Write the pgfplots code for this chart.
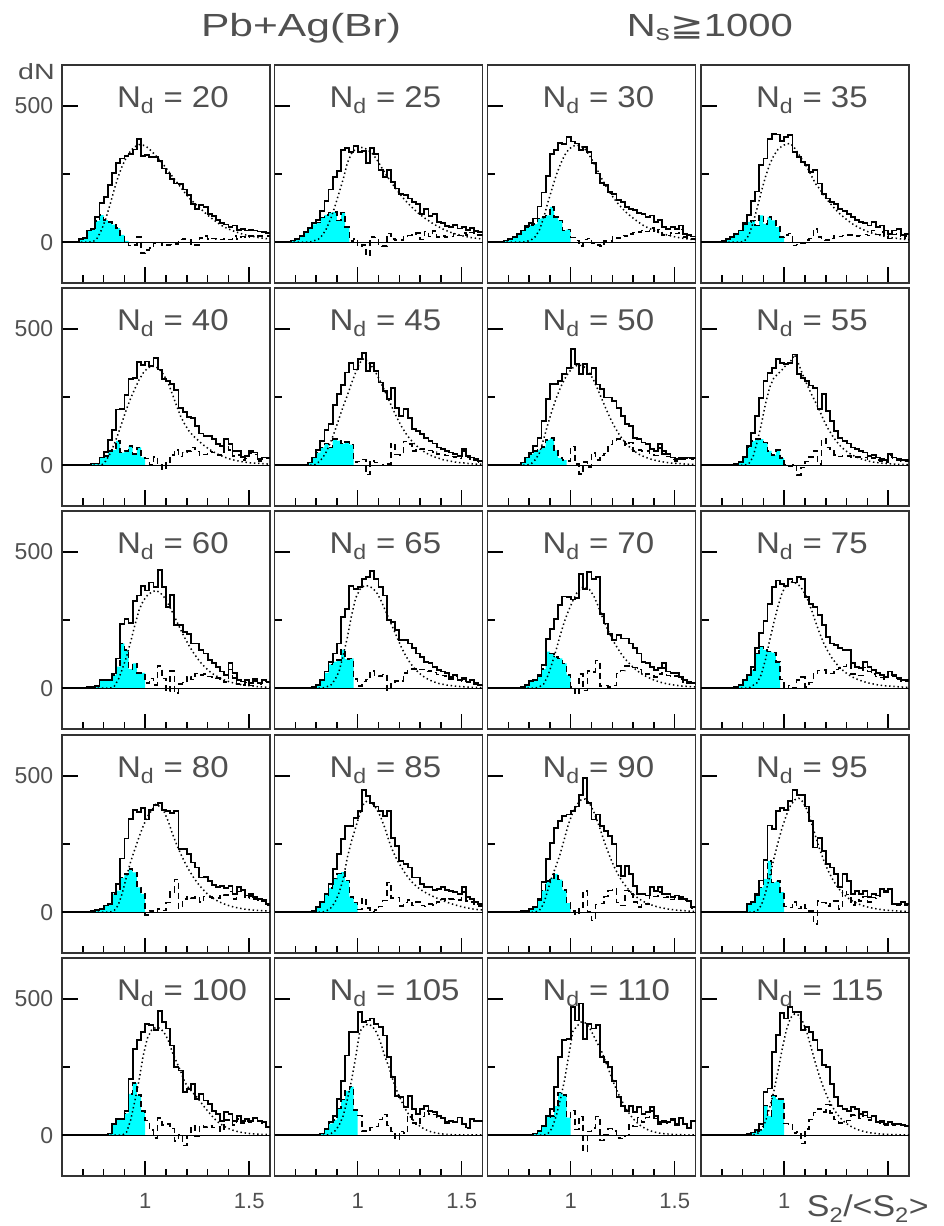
\documentclass[border=0pt]{standalone}
\usepackage{pgfplots}
\usepackage{pgfplotstable}
\usepackage{graphicx}
\usepackage{fontspec}
\setmainfont{Liberation Sans}
\newfontfamily\dejavu{DejaVu Sans}
\pgfplotsset{compat=1.18}
\definecolor{cy}{RGB}{0,255,255}
\definecolor{txt}{RGB}{80,80,80}

\pgfplotstableread[row sep=\\]{x s f d\\
0.60 0 0 0\\ 0.68 10 0 10\\ 0.70 15 0 15\\ 0.72 43 0 43\\ 0.74 50 2 48\\ 0.76 92 15 77\\ 0.78 144 45 99\\ 0.80 166 85 81\\ 0.82 209 135 74\\ 0.84 254 190 64\\ 0.86 291 240 51\\ 0.88 307 280 27\\ 0.90 317 312 5\\ 0.92 322 335 -13\\ 0.94 340 350 -10\\ 0.96 377 358 19\\ 0.98 316 356 -40\\ 1.00 320 348 -28\\ 1.02 313 334 -21\\ 1.04 313 318 -5\\ 1.06 298 300 -2\\ 1.08 270 282 -12\\ 1.10 252 262 -10\\ 1.12 233 242 -9\\ 1.14 215 222 -7\\ 1.16 212 202 10\\ 1.18 193 182 11\\ 1.20 172 163 9\\ 1.22 141 148 -7\\ 1.24 123 134 -11\\ 1.26 135 120 15\\ 1.28 129 106 23\\ 1.30 104 93 11\\ 1.32 95 81 14\\ 1.34 80 70 10\\ 1.36 70 60 10\\ 1.38 65 52 13\\ 1.40 55 45 10\\ 1.42 61 39 22\\ 1.44 45 34 11\\ 1.46 49 29 20\\ 1.48 43 25 18\\ 1.50 45 22 23\\ 1.52 43 19 24\\ 1.54 39 16 23\\ 1.56 37 14 23\\ 1.58 34 12 22\\ 1.60 34 12 22\\
}\tbA
\pgfplotstableread[row sep=\\]{x s f d\\
0.60 0 0 0\\ 0.68 6 0 6\\ 0.70 12 0 12\\ 0.72 22 0 22\\ 0.74 38 0 38\\ 0.76 52 0 52\\ 0.78 70 5 65\\ 0.80 82 10 72\\ 0.82 115 25 90\\ 0.84 150 50 100\\ 0.86 193 85 108\\ 0.88 240 130 110\\ 0.90 260 180 80\\ 0.92 338 230 108\\ 0.94 345 290 55\\ 0.96 330 325 5\\ 0.98 354 342 12\\ 1.00 332 348 -16\\ 1.02 335 346 -11\\ 1.04 289 338 -49\\ 1.06 344 325 19\\ 1.08 322 305 17\\ 1.10 264 280 -16\\ 1.12 240 255 -15\\ 1.14 264 232 32\\ 1.16 221 210 11\\ 1.18 197 190 7\\ 1.20 178 170 8\\ 1.22 172 152 20\\ 1.24 160 136 24\\ 1.26 147 121 26\\ 1.28 140 107 33\\ 1.30 104 95 9\\ 1.32 123 84 39\\ 1.34 95 74 21\\ 1.36 104 64 40\\ 1.38 75 56 19\\ 1.40 70 48 22\\ 1.42 60 41 19\\ 1.44 55 35 20\\ 1.46 62 30 32\\ 1.48 50 26 24\\ 1.50 55 22 33\\ 1.52 45 19 26\\ 1.54 52 16 36\\ 1.56 40 14 26\\ 1.58 38 12 26\\ 1.60 38 12 26\\
}\tbB
\pgfplotstableread[row sep=\\]{x s f d\\
0.60 0 0 0\\ 0.68 6 0 6\\ 0.70 10 0 10\\ 0.72 18 0 18\\ 0.74 30 0 30\\ 0.76 43 0 43\\ 0.78 58 3 55\\ 0.80 70 8 62\\ 0.82 87 20 67\\ 0.84 131 45 86\\ 0.86 182 90 92\\ 0.88 243 145 98\\ 0.90 324 195 129\\ 0.92 337 245 92\\ 0.94 365 285 80\\ 0.96 361 318 43\\ 0.98 387 340 47\\ 1.00 369 352 17\\ 1.02 362 356 6\\ 1.04 338 352 -14\\ 1.06 350 340 10\\ 1.08 332 318 14\\ 1.10 289 292 -3\\ 1.12 252 262 -10\\ 1.14 217 232 -15\\ 1.16 209 205 4\\ 1.18 184 180 4\\ 1.20 176 158 18\\ 1.22 154 139 15\\ 1.24 147 122 25\\ 1.26 129 107 22\\ 1.28 123 94 29\\ 1.30 117 82 35\\ 1.32 108 71 37\\ 1.34 104 61 43\\ 1.36 92 53 39\\ 1.38 98 46 52\\ 1.40 74 39 35\\ 1.42 80 34 46\\ 1.44 55 29 26\\ 1.46 49 25 24\\ 1.48 55 21 34\\ 1.50 49 18 31\\ 1.52 61 15 46\\ 1.54 31 13 18\\ 1.56 25 11 14\\ 1.58 21 9 12\\ 1.60 21 9 12\\
}\tbC
\pgfplotstableread[row sep=\\]{x s f d\\
0.60 0 0 0\\ 0.70 5 0 5\\ 0.72 12 0 12\\ 0.74 20 0 20\\ 0.76 30 0 30\\ 0.78 43 0 43\\ 0.80 72 5 67\\ 0.82 99 25 74\\ 0.84 150 70 80\\ 0.86 186 125 61\\ 0.88 283 185 98\\ 0.90 307 240 67\\ 0.92 377 285 92\\ 0.94 398 318 80\\ 0.96 395 340 55\\ 0.98 371 353 18\\ 1.00 387 360 27\\ 1.02 393 362 31\\ 1.04 332 345 -13\\ 1.06 313 322 -9\\ 1.08 295 298 -3\\ 1.10 283 275 8\\ 1.12 258 245 13\\ 1.14 264 215 49\\ 1.16 215 196 19\\ 1.18 178 172 6\\ 1.20 160 152 8\\ 1.22 147 134 13\\ 1.24 141 117 24\\ 1.26 123 102 21\\ 1.28 114 89 25\\ 1.30 104 77 27\\ 1.32 92 66 26\\ 1.34 80 57 23\\ 1.36 74 49 25\\ 1.38 70 42 28\\ 1.40 61 36 25\\ 1.42 74 31 43\\ 1.44 55 27 28\\ 1.46 61 23 38\\ 1.48 43 20 23\\ 1.50 31 17 14\\ 1.52 43 15 28\\ 1.54 49 13 36\\ 1.56 25 11 14\\ 1.58 31 9 22\\ 1.60 31 9 22\\
}\tbD
\pgfplotstableread[row sep=\\]{x s f d\\
0.60 0 0 0\\ 0.74 6 0 6\\ 0.76 6 0 6\\ 0.78 28 0 28\\ 0.80 49 15 34\\ 0.82 92 40 52\\ 0.84 130 75 55\\ 0.86 204 115 89\\ 0.88 206 160 46\\ 0.90 257 205 52\\ 0.92 316 245 71\\ 0.94 320 280 40\\ 0.96 377 312 65\\ 0.98 366 338 28\\ 1.00 380 355 25\\ 1.02 364 363 1\\ 1.04 392 362 30\\ 1.06 351 350 1\\ 1.08 315 330 -15\\ 1.10 309 302 7\\ 1.12 299 262 37\\ 1.14 275 220 55\\ 1.16 211 180 31\\ 1.18 196 150 46\\ 1.20 177 126 51\\ 1.22 172 108 64\\ 1.24 144 94 50\\ 1.26 116 80 36\\ 1.28 107 68 39\\ 1.30 107 57 50\\ 1.32 95 48 47\\ 1.34 77 40 37\\ 1.36 71 33 38\\ 1.38 95 27 68\\ 1.40 77 22 55\\ 1.42 52 18 34\\ 1.44 52 15 37\\ 1.46 30 12 18\\ 1.48 34 10 24\\ 1.50 52 8 44\\ 1.52 46 7 39\\ 1.54 22 6 16\\ 1.56 28 5 23\\ 1.58 28 4 24\\ 1.60 28 4 24\\
}\tbE
\pgfplotstableread[row sep=\\]{x s f d\\
0.60 0 0 0\\ 0.76 10 0 10\\ 0.78 28 0 28\\ 0.80 56 10 46\\ 0.82 90 25 65\\ 0.84 129 50 79\\ 0.86 150 85 65\\ 0.88 220 125 95\\ 0.90 260 170 90\\ 0.92 294 215 79\\ 0.94 340 255 85\\ 0.96 375 300 75\\ 0.98 351 340 11\\ 1.00 388 375 13\\ 1.02 412 392 20\\ 1.04 345 380 -35\\ 1.06 376 360 16\\ 1.08 345 335 10\\ 1.10 303 305 -2\\ 1.12 272 272 0\\ 1.14 242 238 4\\ 1.16 284 204 80\\ 1.18 211 172 39\\ 1.20 181 143 38\\ 1.22 205 118 87\\ 1.24 174 97 77\\ 1.26 132 80 52\\ 1.28 126 66 60\\ 1.30 113 54 59\\ 1.32 101 44 57\\ 1.34 89 36 53\\ 1.36 79 30 49\\ 1.38 65 25 40\\ 1.40 59 20 39\\ 1.42 52 17 35\\ 1.44 46 14 32\\ 1.46 40 11 29\\ 1.48 34 9 25\\ 1.50 59 8 51\\ 1.52 34 6 28\\ 1.54 28 5 23\\ 1.56 22 4 18\\ 1.58 16 4 12\\ 1.60 16 4 12\\
}\tbF
\pgfplotstableread[row sep=\\]{x s f d\\
0.60 0 0 0\\ 0.74 2 0 2\\ 0.76 10 0 10\\ 0.78 28 0 28\\ 0.80 46 5 41\\ 0.82 71 20 51\\ 0.84 101 45 56\\ 0.86 162 95 67\\ 0.88 242 150 92\\ 0.90 299 200 99\\ 0.92 299 245 54\\ 0.94 309 283 26\\ 0.96 333 315 18\\ 0.98 355 340 15\\ 1.00 425 357 68\\ 1.02 370 366 4\\ 1.04 333 366 -33\\ 1.06 370 358 12\\ 1.08 333 340 -7\\ 1.10 357 312 45\\ 1.12 296 278 18\\ 1.14 278 242 36\\ 1.16 248 206 42\\ 1.18 248 172 76\\ 1.20 235 142 93\\ 1.22 211 116 95\\ 1.24 181 94 87\\ 1.26 150 76 74\\ 1.28 144 61 83\\ 1.30 101 49 52\\ 1.32 95 39 56\\ 1.34 83 32 51\\ 1.36 77 26 51\\ 1.38 59 21 38\\ 1.40 52 17 35\\ 1.42 77 14 63\\ 1.44 52 11 41\\ 1.46 40 9 31\\ 1.48 28 7 21\\ 1.50 22 6 16\\ 1.52 28 5 23\\ 1.54 26 4 22\\ 1.56 28 3 25\\ 1.58 26 3 23\\ 1.60 26 3 23\\
}\tbG
\pgfplotstableread[row sep=\\]{x s f d\\
0.60 0 0 0\\ 0.76 4 0 4\\ 0.78 12 0 12\\ 0.80 30 0 30\\ 0.82 70 5 65\\ 0.84 119 30 89\\ 0.86 180 85 95\\ 0.88 245 150 95\\ 0.90 308 225 83\\ 0.92 337 285 52\\ 0.94 357 320 37\\ 0.96 390 335 55\\ 0.98 376 350 26\\ 1.00 370 368 2\\ 1.02 376 380 -4\\ 1.04 406 405 1\\ 1.06 333 370 -37\\ 1.08 321 330 -9\\ 1.10 309 295 14\\ 1.12 292 262 30\\ 1.14 284 232 52\\ 1.16 205 200 5\\ 1.18 260 165 95\\ 1.20 199 135 64\\ 1.22 162 110 52\\ 1.24 126 88 38\\ 1.26 101 70 31\\ 1.28 89 56 33\\ 1.30 79 45 34\\ 1.32 65 36 29\\ 1.34 59 29 30\\ 1.36 52 23 29\\ 1.38 46 18 28\\ 1.40 34 14 20\\ 1.42 38 11 27\\ 1.44 28 9 19\\ 1.46 22 7 15\\ 1.48 18 6 12\\ 1.50 40 5 35\\ 1.52 28 4 24\\ 1.54 22 3 19\\ 1.56 18 3 15\\ 1.58 18 2 16\\ 1.60 18 2 16\\
}\tbH
\pgfplotstableread[row sep=\\]{x s f d\\
0.60 0 0 0\\ 0.72 5 0 5\\ 0.74 5 0 5\\ 0.76 8 0 8\\ 0.78 30 0 30\\ 0.80 30 0 30\\ 0.82 30 0 30\\ 0.84 54 5 49\\ 0.86 109 30 79\\ 0.88 234 70 164\\ 0.90 255 115 140\\ 0.92 240 170 70\\ 0.94 321 230 91\\ 0.96 340 285 55\\ 0.98 376 320 56\\ 1.00 358 340 18\\ 1.02 388 352 36\\ 1.04 370 358 12\\ 1.06 433 352 81\\ 1.08 370 335 35\\ 1.10 297 310 -13\\ 1.12 343 280 63\\ 1.14 231 248 -17\\ 1.16 231 215 16\\ 1.18 206 185 21\\ 1.20 200 157 43\\ 1.22 164 132 32\\ 1.24 164 110 54\\ 1.26 140 91 49\\ 1.28 127 75 52\\ 1.30 103 61 42\\ 1.32 91 50 41\\ 1.34 79 41 38\\ 1.36 61 33 28\\ 1.38 49 27 22\\ 1.40 91 22 69\\ 1.42 55 18 37\\ 1.44 30 14 16\\ 1.46 24 12 12\\ 1.48 30 10 20\\ 1.50 18 8 10\\ 1.52 33 6 27\\ 1.54 20 5 15\\ 1.56 30 4 26\\ 1.58 24 3 21\\ 1.60 24 3 21\\
}\tbI
\pgfplotstableread[row sep=\\]{x s f d\\
0.60 0 0 0\\ 0.78 5 0 5\\ 0.80 12 0 12\\ 0.82 30 0 30\\ 0.84 61 5 56\\ 0.86 97 10 87\\ 0.88 127 30 97\\ 0.90 164 60 104\\ 0.92 261 120 141\\ 0.94 291 185 106\\ 0.96 374 265 109\\ 0.98 364 330 34\\ 1.00 370 362 8\\ 1.02 400 375 25\\ 1.04 407 375 32\\ 1.06 431 368 63\\ 1.08 400 352 48\\ 1.10 370 325 45\\ 1.12 340 290 50\\ 1.14 249 255 -6\\ 1.16 243 220 23\\ 1.18 212 185 27\\ 1.20 176 150 26\\ 1.22 176 120 56\\ 1.24 164 95 69\\ 1.26 146 75 71\\ 1.28 127 59 68\\ 1.30 115 46 69\\ 1.32 97 36 61\\ 1.34 91 28 63\\ 1.36 79 22 57\\ 1.38 67 17 50\\ 1.40 61 14 47\\ 1.42 55 11 44\\ 1.44 42 9 33\\ 1.46 49 7 42\\ 1.48 30 6 24\\ 1.50 36 5 31\\ 1.52 24 4 20\\ 1.54 30 3 27\\ 1.56 18 3 15\\ 1.58 12 2 10\\ 1.60 12 2 10\\
}\tbJ
\pgfplotstableread[row sep=\\]{x s f d\\
0.60 0 0 0\\ 0.76 5 0 5\\ 0.78 12 0 12\\ 0.80 25 0 25\\ 0.82 30 0 30\\ 0.84 47 5 42\\ 0.86 85 15 70\\ 0.88 179 45 134\\ 0.90 217 90 127\\ 0.92 255 140 115\\ 0.94 304 195 109\\ 0.96 336 245 91\\ 0.98 334 285 49\\ 1.00 325 320 5\\ 1.02 330 350 -20\\ 1.04 419 368 51\\ 1.06 364 372 -8\\ 1.08 425 362 63\\ 1.10 400 340 60\\ 1.12 407 305 102\\ 1.14 273 265 8\\ 1.16 237 228 9\\ 1.18 200 195 5\\ 1.20 176 166 10\\ 1.22 194 141 53\\ 1.24 182 118 64\\ 1.26 182 100 82\\ 1.28 164 84 80\\ 1.30 146 70 76\\ 1.32 127 58 69\\ 1.34 97 48 49\\ 1.36 91 40 51\\ 1.38 79 33 46\\ 1.40 67 27 40\\ 1.42 73 22 51\\ 1.44 91 18 73\\ 1.46 61 15 46\\ 1.48 55 12 43\\ 1.50 55 10 45\\ 1.52 42 8 34\\ 1.54 30 7 23\\ 1.56 24 6 18\\ 1.58 18 5 13\\ 1.60 18 5 13\\
}\tbK
\pgfplotstableread[row sep=\\]{x s f d\\
0.60 0 0 0\\ 0.76 5 0 5\\ 0.78 12 0 12\\ 0.80 30 0 30\\ 0.82 49 0 49\\ 0.84 77 10 67\\ 0.86 147 20 127\\ 0.88 202 50 152\\ 0.90 245 105 140\\ 0.92 309 175 134\\ 0.94 370 240 130\\ 0.96 395 300 95\\ 0.98 382 350 32\\ 1.00 376 378 -2\\ 1.02 400 390 10\\ 1.04 388 388 0\\ 1.06 407 378 29\\ 1.08 400 360 40\\ 1.10 334 330 4\\ 1.12 310 290 20\\ 1.14 297 245 52\\ 1.16 267 202 65\\ 1.18 231 165 66\\ 1.20 188 135 53\\ 1.22 164 110 54\\ 1.24 158 90 68\\ 1.26 146 73 73\\ 1.28 140 60 80\\ 1.30 140 49 91\\ 1.32 91 40 51\\ 1.34 79 33 46\\ 1.36 73 27 46\\ 1.38 97 22 75\\ 1.40 79 18 61\\ 1.42 67 15 52\\ 1.44 55 12 43\\ 1.46 49 10 39\\ 1.48 42 8 34\\ 1.50 61 7 54\\ 1.52 49 6 43\\ 1.54 36 5 31\\ 1.56 30 4 26\\ 1.58 30 3 27\\ 1.60 30 3 27\\
}\tbL
\pgfplotstableread[row sep=\\]{x s f d\\
0.60 0 0 0\\ 0.74 5 0 5\\ 0.76 7 0 7\\ 0.78 12 0 12\\ 0.80 24 0 24\\ 0.82 30 0 30\\ 0.84 72 5 67\\ 0.86 104 25 79\\ 0.88 197 70 127\\ 0.90 270 130 140\\ 0.92 343 185 158\\ 0.94 376 230 146\\ 0.96 366 275 91\\ 0.98 382 315 67\\ 1.00 340 350 -10\\ 1.02 376 372 4\\ 1.04 394 395 -1\\ 1.06 400 388 12\\ 1.08 376 370 6\\ 1.10 370 335 35\\ 1.12 364 290 74\\ 1.14 370 250 120\\ 1.16 231 215 16\\ 1.18 231 183 48\\ 1.20 212 155 57\\ 1.22 182 130 52\\ 1.24 164 108 56\\ 1.26 127 90 37\\ 1.28 130 73 57\\ 1.30 115 60 55\\ 1.32 100 49 51\\ 1.34 91 40 51\\ 1.36 97 33 64\\ 1.38 89 27 62\\ 1.40 97 22 75\\ 1.42 67 18 49\\ 1.44 91 15 76\\ 1.46 82 12 70\\ 1.48 61 10 51\\ 1.50 67 8 59\\ 1.52 55 7 48\\ 1.54 49 6 43\\ 1.56 45 5 40\\ 1.58 30 4 26\\ 1.60 30 4 26\\
}\tbM
\pgfplotstableread[row sep=\\]{x s f d\\
0.60 0 0 0\\ 0.78 5 0 5\\ 0.80 18 0 18\\ 0.82 36 0 36\\ 0.84 67 5 62\\ 0.86 103 15 88\\ 0.88 158 35 123\\ 0.90 212 70 142\\ 0.92 267 120 147\\ 0.94 316 200 116\\ 0.96 316 260 56\\ 0.98 346 310 36\\ 1.00 370 360 10\\ 1.02 449 400 49\\ 1.04 425 410 15\\ 1.06 400 400 0\\ 1.08 388 380 8\\ 1.10 370 350 20\\ 1.12 352 310 42\\ 1.14 370 262 108\\ 1.16 273 222 51\\ 1.18 243 190 53\\ 1.20 188 165 23\\ 1.22 176 140 36\\ 1.24 164 120 44\\ 1.26 127 103 24\\ 1.28 127 90 37\\ 1.30 103 79 24\\ 1.32 91 70 21\\ 1.34 91 62 29\\ 1.36 81 55 26\\ 1.38 85 48 37\\ 1.40 91 42 49\\ 1.42 81 36 45\\ 1.44 79 31 48\\ 1.46 73 26 47\\ 1.48 67 22 45\\ 1.50 91 18 73\\ 1.52 55 15 40\\ 1.54 49 12 37\\ 1.56 36 10 26\\ 1.58 30 8 22\\ 1.60 30 8 22\\
}\tbN
\pgfplotstableread[row sep=\\]{x s f d\\
0.60 0 0 0\\ 0.76 5 0 5\\ 0.78 5 0 5\\ 0.80 12 0 12\\ 0.82 18 0 18\\ 0.84 49 7 42\\ 0.86 110 30 80\\ 0.88 194 80 114\\ 0.90 255 130 125\\ 0.92 310 170 140\\ 0.94 334 215 119\\ 0.96 352 270 82\\ 0.98 358 325 33\\ 1.00 370 365 5\\ 1.02 388 395 -7\\ 1.04 431 412 19\\ 1.06 492 415 77\\ 1.08 400 400 0\\ 1.10 340 370 -30\\ 1.12 358 330 28\\ 1.14 316 285 31\\ 1.16 297 240 57\\ 1.18 279 200 79\\ 1.20 249 165 84\\ 1.22 170 135 35\\ 1.24 134 110 24\\ 1.26 170 90 80\\ 1.28 140 73 67\\ 1.30 97 59 38\\ 1.32 67 48 19\\ 1.34 67 39 28\\ 1.36 61 32 29\\ 1.38 91 26 65\\ 1.40 79 21 58\\ 1.42 91 17 74\\ 1.44 67 14 53\\ 1.46 67 11 56\\ 1.48 55 9 46\\ 1.50 61 7 54\\ 1.52 55 6 49\\ 1.54 49 5 44\\ 1.56 43 4 39\\ 1.58 18 3 15\\ 1.60 18 3 15\\
}\tbO
\pgfplotstableread[row sep=\\]{x s f d\\
0.60 0 0 0\\ 0.82 30 0 30\\ 0.84 36 0 36\\ 0.86 66 5 61\\ 0.88 116 25 91\\ 0.90 192 70 122\\ 0.92 318 130 188\\ 0.94 304 195 109\\ 0.96 370 255 115\\ 0.98 383 310 73\\ 1.00 376 355 21\\ 1.02 407 390 17\\ 1.04 449 412 37\\ 1.06 431 418 13\\ 1.08 431 405 26\\ 1.10 388 375 13\\ 1.12 334 330 4\\ 1.14 237 280 -43\\ 1.16 273 232 41\\ 1.18 225 190 35\\ 1.20 176 154 22\\ 1.22 164 124 40\\ 1.24 140 99 41\\ 1.26 91 79 12\\ 1.28 140 63 77\\ 1.30 115 50 65\\ 1.32 67 40 27\\ 1.34 79 32 47\\ 1.36 67 26 41\\ 1.38 79 21 58\\ 1.40 55 17 38\\ 1.42 67 14 53\\ 1.44 61 11 50\\ 1.46 85 9 76\\ 1.48 79 7 72\\ 1.50 85 6 79\\ 1.52 30 5 25\\ 1.54 30 4 26\\ 1.56 36 3 33\\ 1.58 30 3 27\\ 1.60 30 3 27\\
}\tbP
\pgfplotstableread[row sep=\\]{x s f d\\
0.60 0 0 0\\ 0.82 6 0 6\\ 0.84 41 0 41\\ 0.86 59 0 59\\ 0.88 60 0 60\\ 0.90 90 10 80\\ 0.92 206 55 151\\ 0.94 317 125 192\\ 0.96 348 200 148\\ 0.98 378 290 88\\ 1.00 409 355 54\\ 1.02 403 385 18\\ 1.04 385 395 -10\\ 1.06 455 393 62\\ 1.08 415 378 37\\ 1.10 391 350 41\\ 1.12 329 305 24\\ 1.14 249 270 -21\\ 1.16 237 235 2\\ 1.18 157 195 -38\\ 1.20 170 172 -2\\ 1.22 188 155 33\\ 1.24 133 138 -5\\ 1.26 151 118 33\\ 1.28 127 98 29\\ 1.30 114 80 34\\ 1.32 90 62 28\\ 1.34 77 48 29\\ 1.36 53 37 16\\ 1.38 84 28 56\\ 1.40 77 21 56\\ 1.42 53 16 37\\ 1.44 71 12 59\\ 1.46 53 9 44\\ 1.48 59 7 52\\ 1.50 53 5 48\\ 1.52 65 4 61\\ 1.54 53 3 50\\ 1.56 47 3 44\\ 1.58 31 2 29\\ 1.60 31 2 29\\
}\tbQ
\pgfplotstableread[row sep=\\]{x s f d\\
0.60 0 0 0\\ 0.82 6 0 6\\ 0.84 22 0 22\\ 0.86 47 5 42\\ 0.88 71 15 56\\ 0.90 133 35 98\\ 0.92 200 70 130\\ 0.94 292 130 162\\ 0.96 378 200 178\\ 0.98 378 285 93\\ 1.00 452 380 72\\ 1.02 415 400 15\\ 1.04 421 408 13\\ 1.06 428 400 28\\ 1.08 409 378 31\\ 1.10 397 340 57\\ 1.12 366 290 76\\ 1.14 286 250 36\\ 1.16 213 200 13\\ 1.18 145 160 -15\\ 1.20 139 125 14\\ 1.22 102 95 7\\ 1.24 145 70 75\\ 1.26 96 52 44\\ 1.28 77 38 39\\ 1.30 96 27 69\\ 1.32 108 19 89\\ 1.34 90 13 77\\ 1.36 84 9 75\\ 1.38 71 6 65\\ 1.40 65 4 61\\ 1.42 47 3 44\\ 1.44 53 2 51\\ 1.46 47 1 46\\ 1.48 65 1 64\\ 1.50 40 1 39\\ 1.52 28 1 27\\ 1.54 59 1 58\\ 1.56 53 1 52\\ 1.58 53 1 52\\ 1.60 53 1 52\\
}\tbR
\pgfplotstableread[row sep=\\]{x s f d\\
0.60 0 0 0\\ 0.82 6 0 6\\ 0.84 16 0 16\\ 0.86 34 0 34\\ 0.88 71 5 66\\ 0.90 96 25 71\\ 0.92 176 70 106\\ 0.94 286 130 156\\ 0.96 348 200 148\\ 0.98 354 290 64\\ 1.00 470 380 90\\ 1.02 421 400 21\\ 1.04 483 415 68\\ 1.06 354 412 -58\\ 1.08 409 395 14\\ 1.10 391 365 26\\ 1.12 403 335 68\\ 1.14 286 305 -19\\ 1.16 268 265 3\\ 1.18 249 225 24\\ 1.20 200 185 15\\ 1.22 139 150 -11\\ 1.24 108 120 -12\\ 1.26 90 92 -2\\ 1.28 108 70 38\\ 1.30 84 52 32\\ 1.32 102 38 64\\ 1.34 77 28 49\\ 1.36 84 20 64\\ 1.38 102 14 88\\ 1.40 71 10 61\\ 1.42 47 7 40\\ 1.44 53 5 48\\ 1.46 47 4 43\\ 1.48 59 3 56\\ 1.50 40 2 38\\ 1.52 65 2 63\\ 1.54 40 1 39\\ 1.56 28 1 27\\ 1.58 53 1 52\\ 1.60 53 1 52\\
}\tbS
\pgfplotstableread[row sep=\\]{x s f d\\
0.60 0 0 0\\ 0.82 5 0 5\\ 0.84 10 0 10\\ 0.86 20 5 15\\ 0.88 40 20 20\\ 0.90 158 50 108\\ 0.92 171 100 71\\ 0.94 305 160 145\\ 0.96 368 235 133\\ 0.98 448 315 133\\ 1.00 428 385 43\\ 1.02 470 430 40\\ 1.04 452 445 7\\ 1.06 452 440 12\\ 1.08 385 415 -30\\ 1.10 397 375 22\\ 1.12 378 320 58\\ 1.14 348 265 83\\ 1.16 311 215 96\\ 1.18 256 172 84\\ 1.20 249 136 113\\ 1.22 188 106 82\\ 1.24 139 82 57\\ 1.26 108 63 45\\ 1.28 96 48 48\\ 1.30 90 37 53\\ 1.32 102 28 74\\ 1.34 96 21 75\\ 1.36 77 16 61\\ 1.38 84 12 72\\ 1.40 65 9 56\\ 1.42 71 7 64\\ 1.44 47 5 42\\ 1.46 53 4 49\\ 1.48 40 3 37\\ 1.50 47 2 45\\ 1.52 40 2 38\\ 1.54 40 1 39\\ 1.56 37 1 36\\ 1.58 34 1 33\\ 1.60 34 1 33\\
}\tbT

\pgfplotsset{
  hist/.style={
    width=208pt, height=218pt, scale only axis,
    xmin=0.6, xmax=1.6, ymin=-150, ymax=650,
    axis line style={line width=1.5pt, black!80},
    tick align=inside, tick pos=left,
    xtick={1,1.5}, minor xtick={0.7,0.8,0.9,1.1,1.2,1.3,1.4},
    ytick={0,500}, minor ytick={250},
    major tick length=15.5pt, minor tick length=7.5pt,
    tick style={line width=1.5pt, black},
    xticklabels={}, yticklabels={},
    xticklabel style={font=\fontsize{22}{22}\selectfont, text=txt, inner sep=0pt, yshift=-17pt},
    yticklabel style={font=\fontsize{23}{23}\selectfont, text=txt, inner sep=0pt, xshift=-8.7pt},
  }
}

\newcommand{\panel}[6]{%
\begin{axis}[hist, at={(#1pt,-#2pt)}, anchor=north west, #6]
  \begin{scope}
    \clip (axis cs:0.6,0) rectangle (axis cs:#4,700);
    \addplot[fill=cy, draw=none, const plot mark left] table[x=x,y=d]{#3} \closedcycle;
  \end{scope}
  \draw[line width=0.8pt, black] (axis cs:0.6,0) -- (axis cs:1.6,0);
  \addplot[black, line width=1.5pt, dash pattern=on 6pt off 4pt, const plot mark left] table[x=x,y=d]{#3};
  \addplot[black, line width=1.5pt, dash pattern=on 1.4pt off 2.8pt] table[x expr=\thisrow{x}+0.01,y=f]{#3};
  \addplot[black, line width=1.8pt, const plot mark left] table[x=x,y=s]{#3};
  \node[anchor=base west, inner sep=0pt, text=txt, font=\fontsize{30}{30}\selectfont]
    at (rel axis cs:0.264,0.807) {\scalebox{1.1}[1]{N\textsubscript{d} = #5}};
\end{axis}}

\begin{document}
\begin{tikzpicture}
\useasboundingbox (0pt,0pt) rectangle (943pt,-1226pt);
\panel{62}{65}{\tbA}{0.92}{20}{yticklabels={0,500}}
\panel{274.5}{65}{\tbB}{0.96}{25}{}
\panel{487.5}{65}{\tbC}{1.00}{30}{}
\panel{701}{65}{\tbD}{1.00}{35}{}
\panel{62}{288}{\tbE}{1.00}{40}{yticklabels={0,500}}
\panel{274.5}{288}{\tbF}{0.98}{45}{}
\panel{487.5}{288}{\tbG}{0.98}{50}{}
\panel{701}{288}{\tbH}{1.00}{55}{}
\panel{62}{511}{\tbI}{1.00}{60}{yticklabels={0,500}}
\panel{274.5}{511}{\tbJ}{0.98}{65}{}
\panel{487.5}{511}{\tbK}{1.00}{70}{}
\panel{701}{511}{\tbL}{0.98}{75}{}
\panel{62}{735}{\tbM}{1.00}{80}{yticklabels={0,500}}
\panel{274.5}{735}{\tbN}{1.00}{85}{}
\panel{487.5}{735}{\tbO}{1.00}{90}{}
\panel{701}{735}{\tbP}{1.00}{95}{}
\panel{62}{958}{\tbQ}{1.00}{100}{yticklabels={0,500}, xticklabels={1,1.5}}
\panel{274.5}{958}{\tbR}{1.00}{105}{xticklabels={1,1.5}}
\panel{487.5}{958}{\tbS}{1.00}{110}{xticklabels={1,1.5}}
\panel{701}{958}{\tbT}{1.00}{115}{xticklabels={1,{}}}
\node[anchor=base, inner sep=0pt, text=txt, font=\fontsize{32}{32}\selectfont] at (301pt,-36.7pt) {\scalebox{1.33}[1]{Pb+Ag(Br)}};
\node[anchor=base west, inner sep=0pt, text=txt, font=\fontsize{32}{32}\selectfont] at (626.7pt,-36.7pt) {\scalebox{1.25}[1]{N\textsubscript{s}{\dejavu ≧}1000}};
\node[anchor=base west, inner sep=0pt, text=txt, font=\fontsize{22}{22}\selectfont] at (18pt,-79pt) {\scalebox{1.3}[1]{dN}};
\node[anchor=base west, inner sep=0pt, text=txt, font=\fontsize{30}{30}\selectfont] at (806.7pt,-1216.7pt) {\scalebox{1.13}[1]{S\textsubscript{2}/<S\textsubscript{2}>}};
\end{tikzpicture}
\end{document}
